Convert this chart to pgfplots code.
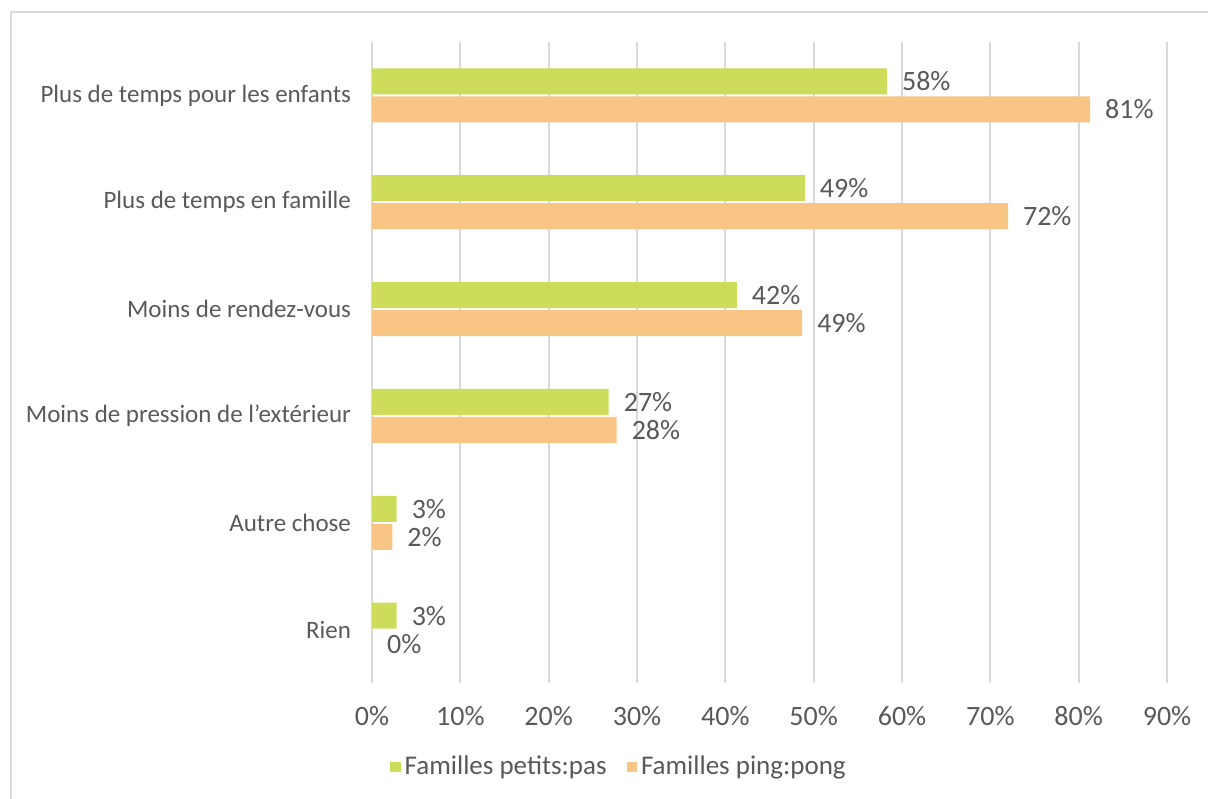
\documentclass[border=0pt]{standalone}
\usepackage{pgfplots}
\pgfplotsset{compat=1.18}
\usepackage{pgfplotstable}
\usepackage{fontspec}
\setmainfont{Carlito}
\definecolor{txt}{HTML}{595959}
\definecolor{grn}{RGB}{206,220,92}
\definecolor{org}{RGB}{248,197,132}
\definecolor{gridc}{HTML}{D9D9D9}

\pgfplotstableread{
y x lab
5 58.3 58
4 49.0 49
3 41.3 42
2 26.8 27
1 2.8 3
0 2.8 3
}\greentab
\pgfplotstableread{
y x lab
5 81.3 81
4 72.0 72
3 48.7 49
2 27.7 28
1 2.3 2
0 0.0 0
}\orangetab

\begin{document}
\begin{tikzpicture}
\useasboundingbox (0,0) rectangle (604pt,399pt);
\draw[gridc, line width=1pt] (5.5pt,-10pt) rectangle (620pt,393pt);
\begin{axis}[
  at={(186pt,57.5pt)}, anchor=south west,
  scale only axis, width=397.5pt, height=320.5pt,
  xmin=0, xmax=90, ymin=-0.5, ymax=5.5,
  xtick={0,10,...,90},
  xticklabel={\pgfmathprintnumber{\tick}\%},
  ytick={0,...,5},
  yticklabels={Rien, Autre chose, Moins de pression de l’extérieur, Moins de rendez-vous, Plus de temps en famille, Plus de temps pour les enfants},
  xmajorgrids, grid style={gridc, line width=1pt},
  axis line style={draw=none},
  major tick length=0pt,
  /pgf/number format/assume math mode=true,
  yticklabel style={font=\fontsize{12.5}{14}\selectfont, text=txt, xshift=-7pt},
  xticklabel style={font=\fontsize{14}{16}\selectfont, text=txt, yshift=-8pt},
  xbar, bar width=13pt,
  point meta=explicit symbolic,
  nodes near coords={\pgfplotspointmeta\%},
  nodes near coords align={horizontal},
  every node near coord/.append style={font=\fontsize{14}{16}\selectfont, text=txt, anchor=west, xshift=4pt},
  legend style={at={(0.312,0)}, anchor=center, yshift=-42pt, draw=none,
    font=\fontsize{13.5}{15}\selectfont, text=txt,
    nodes={inner xsep=2pt},
    /tikz/every even column/.append style={column sep=8pt}},
  legend columns=2,
]
\addplot[fill=grn, draw=none, bar shift=7pt,
  legend image code/.code={\fill[grn] (0pt,-2.6pt) rectangle (5.2pt,2.6pt);}]
  table[x=x, y=y, meta=lab] {\greentab};
\addlegendentry{Familles petits:pas}
\addplot[fill=org, draw=none, bar shift=-7pt,
  legend image code/.code={\fill[org] (0pt,-2.6pt) rectangle (5.2pt,2.6pt);}]
  table[x=x, y=y, meta=lab] {\orangetab};
\addlegendentry{Familles ping:pong}
\end{axis}
\end{tikzpicture}
\end{document}
